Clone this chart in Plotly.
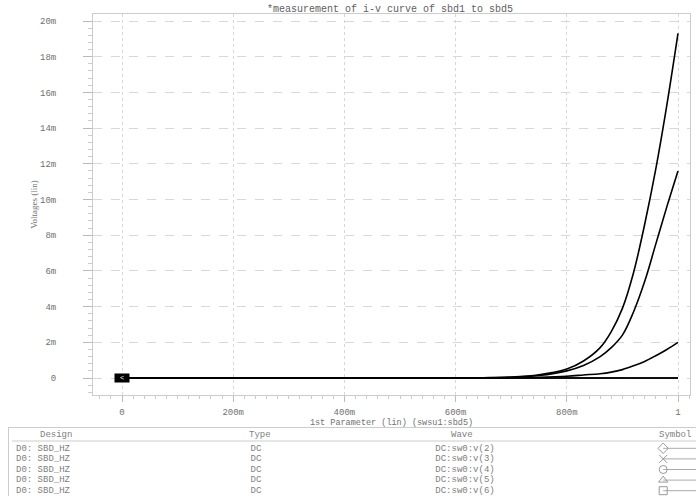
import plotly.graph_objects as go

# ---------------- data ----------------
x_vals = [0.0, 0.1, 0.2, 0.3, 0.4, 0.5, 0.6, 0.65, 0.7, 0.75, 0.8, 0.83, 0.86,
          0.88, 0.9, 0.92, 0.94, 0.96, 0.98, 1.0]
# voltages in mV
v2 = [0, 0, 0, 0, 0, 0, 0.005, 0.015, 0.05, 0.18, 0.5, 0.95, 1.7,
      2.6, 3.9, 5.9, 8.6, 11.7, 15.3, 19.3]
v3 = [0, 0, 0, 0, 0, 0, 0.004, 0.012, 0.04, 0.14, 0.4, 0.7, 1.2,
      1.7, 2.4, 3.7, 5.4, 7.5, 9.6, 11.6]
v4 = [0, 0, 0, 0, 0, 0, 0.001, 0.003, 0.01, 0.04, 0.1, 0.17, 0.24,
      0.33, 0.47, 0.68, 0.93, 1.25, 1.6, 2.0]
v5 = [0] * 20
v6 = [0] * 20
series = [v2, v3, v4, v5, v6]

designs = ["D0: SBD_HZ"] * 5
types = ["DC"] * 5
waves = ["DC:sw0:v(2)", "DC:sw0:v(3)", "DC:sw0:v(4)", "DC:sw0:v(5)", "DC:sw0:v(6)"]
symbols = ["diamond-open", "x-thin-open", "circle-open", "triangle-up-open", "square-open"]
headers = ["Design", "Type", "Wave", "Symbol"]

y_tickvals = [0, 2, 4, 6, 8, 10, 12, 14, 16, 18, 20]
y_ticktext = ["0", "2m", "4m", "6m", "8m", "10m", "12m", "14m", "16m", "18m", "20m"]
x_tickvals = [0, 0.2, 0.4, 0.6, 0.8, 1.0]
x_ticktext = ["0", "200m", "400m", "600m", "800m", "1"]

title = "*measurement of i-v curve of sbd1 to sbd5"
x_title = "1st Parameter (lin) (swsu1:sbd5)"
y_title = "Voltages (lin)"

MONO = "Liberation Mono"
TXT = "#707070"
W, H = 696, 496


def fx(p):
    return p / W


def fy(p):
    return 1 - p / H


fig = go.Figure()
for s in series:
    fig.add_trace(go.Scatter(x=x_vals, y=s, mode="lines", line=dict(color="black", width=1.6, shape="spline"),
                             showlegend=False, xaxis="x", yaxis="y"))

# start marker box
fig.add_annotation(x=x_vals[0], y=v2[0], xref="x", yref="y", text="<", showarrow=False,
                   bgcolor="black", font=dict(color="white", size=7, family=MONO),
                   borderpad=0, width=14, height=8)

# ---------------- table ----------------
n = len(waves)
rows = list(range(n))
tfont = dict(family=MONO, size=9, color="#808080")
fig.add_trace(go.Scatter(x=[0.0] * n, y=rows, mode="text", text=designs, textposition="middle right",
                         textfont=tfont, xaxis="x2", yaxis="y2", showlegend=False, hoverinfo="skip"))
fig.add_trace(go.Scatter(x=[0.0] * n, y=rows, mode="text", text=types, textposition="middle center",
                         textfont=tfont, xaxis="x3", yaxis="y2", showlegend=False, hoverinfo="skip"))
fig.add_trace(go.Scatter(x=[0.0] * n, y=rows, mode="text", text=waves, textposition="middle center",
                         textfont=tfont, xaxis="x4", yaxis="y2", showlegend=False, hoverinfo="skip"))
for i, sym in enumerate(symbols):
    fig.add_trace(go.Scatter(x=[0.2, 1.0], y=[rows[i], rows[i]], mode="lines",
                             line=dict(color="#aaaaaa", width=1), xaxis="x5", yaxis="y2",
                             showlegend=False, hoverinfo="skip"))
    fig.add_trace(go.Scatter(x=[0.2], y=[rows[i]], mode="markers",
                             marker=dict(symbol=sym, size=8, color="#999999", line=dict(width=1, color="#999999")),
                             xaxis="x5", yaxis="y2", showlegend=False, hoverinfo="skip"))

hidden = dict(visible=False, fixedrange=True)
fig.update_layout(
    width=W, height=H,
    margin=dict(l=0, r=0, t=0, b=0, autoexpand=False),
    paper_bgcolor="white", plot_bgcolor="white",
    title=dict(text=title, x=fx(390), xref="paper", xanchor="center", y=fy(8), yref="container",
               yanchor="middle", font=dict(family=MONO, size=10, color="#606060")),
    xaxis=dict(domain=[fx(93), fx(690)], range=[-29 / 556, 1 + 12 / 556],
               tickvals=x_tickvals, ticktext=x_ticktext, automargin=False,
               tickfont=dict(family=MONO, size=9, color=TXT), showgrid=True, gridcolor="#d8d8d8",
               griddash="dot", gridwidth=1, zeroline=False, showline=True, linecolor="#cccccc",
               mirror=True, ticks="outside", ticklen=6, tickcolor="#bbbbbb", ticklabelstandoff=2,
               minor=dict(dtick=0.02, ticks="outside", ticklen=3, tickcolor="#cccccc", showgrid=False),
               title=dict(text=x_title, font=dict(family=MONO, size=8.5, color=TXT), standoff=0)),
    yaxis=dict(domain=[fy(395), fy(14)], range=[-17 / 17.85, 20 + 7 / 17.85],
               tickvals=y_tickvals, ticktext=y_ticktext, automargin=False,
               tickfont=dict(family=MONO, size=9, color=TXT), showgrid=True, gridcolor="#d8d8d8",
               griddash="dash", gridwidth=1, zeroline=False, showline=True, linecolor="#cccccc",
               mirror=True, ticks="outside", ticklen=9, tickcolor="#bbbbbb", ticklabelstandoff=25,
               minor=dict(dtick=0.4, ticks="outside", ticklen=4, tickcolor="#cccccc", showgrid=False),
               title=dict(text=y_title, font=dict(family="Liberation Serif", size=9, color=TXT), standoff=0)),
    xaxis2=dict(domain=[fx(16), fx(250)], range=[0, 1], anchor="y2", **hidden),
    xaxis3=dict(domain=[fx(226), fx(286)], range=[-1, 1], anchor="y2", **hidden),
    xaxis4=dict(domain=[fx(420), fx(510)], range=[-1, 1], anchor="y2", **hidden),
    xaxis5=dict(domain=[fx(655), fx(696)], range=[0, 1], anchor="y2", **hidden),
    yaxis2=dict(domain=[0, fy(443)], range=[n - 0.5, -0.5], anchor="x2", **hidden),
)

fig.add_shape(type="line", xref="paper", yref="paper", x0=fx(8), x1=fx(696), y0=fy(427.5), y1=fy(427.5),
              line=dict(color="#cccccc", width=1))
fig.add_shape(type="line", xref="paper", yref="paper", x0=fx(8.5), x1=fx(8.5), y0=fy(427.5), y1=0,
              line=dict(color="#cccccc", width=1))
fig.add_shape(type="line", xref="paper", yref="paper", x0=fx(12), x1=fx(696), y0=fy(441), y1=fy(441),
              line=dict(color="#cccccc", width=1))
for txt, xp in zip(headers, [56, 260, 462, 675]):
    fig.add_annotation(xref="paper", yref="paper", x=fx(xp), y=fy(435), text=txt, showarrow=False,
                       font=dict(family=MONO, size=9, color="#808080"), xanchor="center", yanchor="middle")

fig.write_html("out.html")
